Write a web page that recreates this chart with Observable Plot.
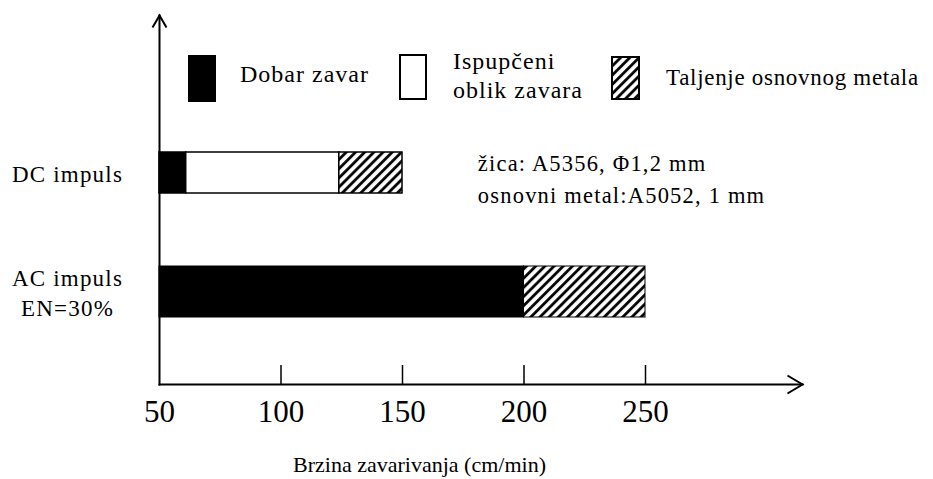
<!DOCTYPE html>
<html><head><meta charset="utf-8">
<script src="https://cdn.jsdelivr.net/npm/d3@7"></script>
<script src="https://cdn.jsdelivr.net/npm/@observablehq/plot@0.6"></script>
<style>
body{margin:0;background:#fff;}
#wrap{position:relative;width:933px;height:479px;font-family:"Liberation Serif","Tinos","Times New Roman","DejaVu Serif",serif;color:#000;}
#wrap svg text{font-family:"Liberation Serif","Tinos","Times New Roman","DejaVu Serif",serif;}
#chart g[aria-label="y-axis tick label"] text{letter-spacing:1.2px;}
#chart text.note{letter-spacing:1.2px;}
.sw{position:absolute;border:2px solid #000;box-sizing:border-box;}
.lt{position:absolute;font-size:24px;line-height:29px;white-space:nowrap;letter-spacing:1px;}
</style></head>
<body><div id="wrap">
<svg width="0" height="0" style="position:absolute"><defs>
<pattern id="hatch" patternUnits="userSpaceOnUse" width="6.5" height="6.5" patternTransform="rotate(45)">
<rect width="6.5" height="6.5" fill="#fff"/><line x1="1.5" y1="0" x2="1.5" y2="6.5" stroke="#000" stroke-width="2.8"/></pattern>
</defs></svg>
<div id="chart"></div>
<div class="sw" style="left:188px;top:55px;width:28px;height:47px;background:#000"></div>
<div class="lt" id="l0" style="left:240px;top:60px"></div>
<div class="sw" style="left:399px;top:54px;width:28px;height:46px;background:#fff"></div>
<div class="lt" id="l1" style="left:453px;top:47px"></div>
<svg style="position:absolute;left:611px;top:56px" width="29" height="44"><rect x="1" y="1" width="27" height="42" fill="url(#hatch)" stroke="#000" stroke-width="2"/></svg>
<div class="lt" id="l2" style="left:666px;top:63px;font-size:23px;letter-spacing:0.7px"></div>
</div>
<script>
const categories = ["DC impuls", "AC impuls\nEN=30%"];
const seriesNames = ["Dobar zavar", "Ispupčeni\noblik zavara", "Taljenje osnovnog metala"];
const startValue = 50;
const dcEnds = [61, 124, 150];
const acEnds = [200, 200, 250];
const xTicks = [50, 100, 150, 200, 250];
const xLabel = "Brzina zavarivanja (cm/min)";
const noteLines = ["žica: A5356, Φ1,2 mm", "osnovni metal:A5052, 1 mm"];
const noteX = 181;
const xLabelX = 157;

["l0","l1","l2"].forEach((id, i) => { document.getElementById(id).innerHTML = seriesNames[i].replace("\n", "<br>"); });

function segments(cat, ends) {
  let prev = startValue;
  return ends.map((e, i) => { const s = {cat, series: seriesNames[i], x1: prev, x2: e}; prev = e; return s; })
             .filter(d => d.x2 > d.x1);
}
const dc = segments(categories[0], dcEnds);
const ac = segments(categories[1], acEnds);
const fillOf = {};
fillOf[seriesNames[0]] = "#000";
fillOf[seriesNames[1]] = "#fff";
fillOf[seriesNames[2]] = "url(#hatch)";

const chevronRight = {draw(ctx){ ctx.moveTo(-15,-9); ctx.lineTo(0,0); ctx.lineTo(-15,9); }};
const chevronUp = {draw(ctx){ ctx.moveTo(-7,12); ctx.lineTo(0,0); ctx.lineTo(7,12); }};
const serif = "'Liberation Serif', Tinos, 'Times New Roman', 'DejaVu Serif', serif";

const plot = Plot.plot({
  width: 933, height: 479,
  marginLeft: 159, marginRight: 131, marginTop: 15, marginBottom: 95,
  style: {fontFamily: serif, background: "transparent", color: "#000"},
  x: {domain: [50, 250], range: [159, 645]},
  y: {domain: categories, range: [77.7, 386.7], padding: 0.575},
  marks: [
    Plot.barX(ac, {x1: "x1", x2: "x2", y: "cat", fill: d => fillOf[d.series], stroke: "#000", strokeWidth: 1}),
    Plot.barX(dc, {x1: "x1", x2: "x2", y: "cat", fill: d => fillOf[d.series], stroke: "#000", strokeWidth: 1.5, insetTop: 5, insetBottom: 5}),
    Plot.frame({anchor: "left", stroke: "#000", strokeWidth: 2}),
    Plot.frame({anchor: "bottom", stroke: "#000", strokeWidth: 2}),
    Plot.dot([0], {x: null, y: null, frameAnchor: "bottom-right", symbol: chevronRight, stroke: "#000", fill: "none", strokeWidth: 2}),
    Plot.dot([0], {x: null, y: null, frameAnchor: "top-left", symbol: chevronUp, stroke: "#000", fill: "none", strokeWidth: 2}),
    Plot.axisX({ticks: xTicks.slice(1), tickSize: -19, fill: "none", label: null, strokeWidth: 1.5}),
    Plot.axisX({ticks: xTicks, tickSize: 0, tickPadding: 15, fontSize: 31, label: null}),
    Plot.axisY({tickSize: 0, tickPadding: 92, textAnchor: "middle", fontSize: 23, lineHeight: 1.3, label: null, dy: -1}),
    Plot.text([{t: noteLines.join("\n"), c: categories[0], v: noteX}], {x: "v", y: "c", text: "t", textAnchor: "start", fontSize: 22.5, lineHeight: 1.42, dy: 4}),
    Plot.text([{t: xLabel, v: xLabelX}], {x: "v", text: "t", frameAnchor: "bottom", dy: 87, fontSize: 22})
  ]
});
d3.select(plot).selectAll("text").filter(function() { return this.textContent.startsWith(noteLines[0]); }).classed("note", true);
document.getElementById("chart").appendChild(plot);
</script>
</body></html>
